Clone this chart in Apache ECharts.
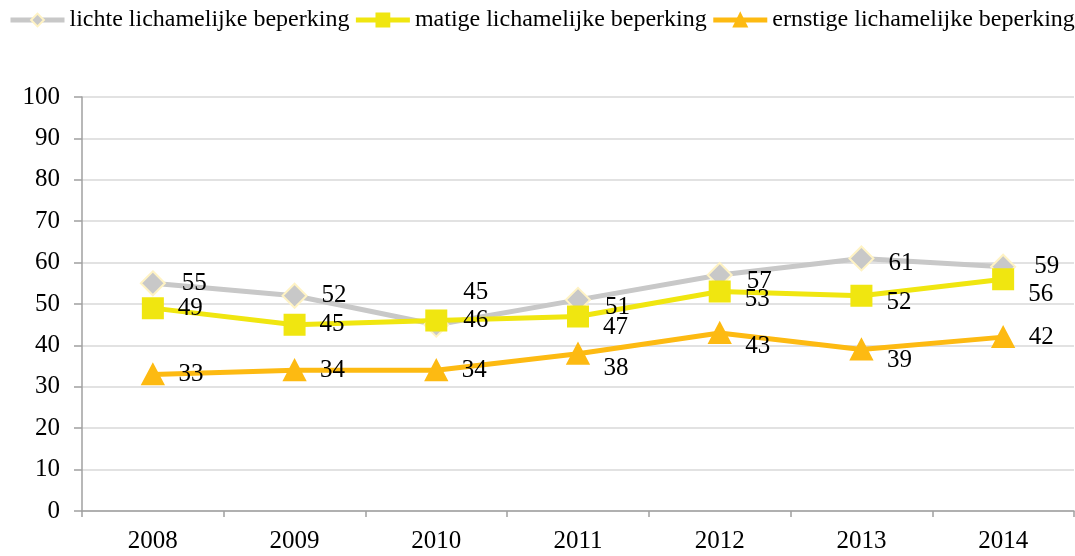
<!DOCTYPE html>
<html>
<head>
<meta charset="utf-8">
<script src="https://cdn.jsdelivr.net/npm/echarts@6/dist/echarts.min.js"></script>
<style>html,body{margin:0;padding:0;background:#fff}#c{width:1075px;height:556px}</style>
</head>
<body>
<div id="c"></div>
<script>
const categories = ['2008','2009','2010','2011','2012','2013','2014'];
const seriesNames = ['lichte lichamelijke beperking','matige lichamelijke beperking','ernstige lichamelijke beperking'];
const lichte = [55,52,45,51,57,61,59];
const matige = [49,45,46,47,53,52,56];
const ernstige = [33,34,34,38,43,39,42];
const yTicks = [0,10,20,30,40,50,60,70,80,90,100];

// label placement tweaks (style only): [dx, dy] per point
const labelOffsets = [
  [[2,0],[0,0],[0,-32],[0,8],[0,6],[0,5],[4,0]],
  [[0,0],[0,0],[2,0],[0,11],[0,8],[0,7],[0,15]],
  [[0,0],[0,0],[0,0],[0,15],[0,13],[0,11],[0,0]]
];

const font = 'Liberation Serif, Times New Roman, serif';
function build(values, si){
  return values.map((v,i)=>({value:v, label:{offset:labelOffsets[si][i]}}));
}
const colors = ['#C8C8C8','#F0E610','#FDBA12'];
const symbols = ['diamond','rect','triangle'];
const sizes = [[24,24],[20,20],[21,20]];
const borders = ['#FFF3C4','#F0E610','#FDBA12'];
const datasets = [lichte, matige, ernstige];

const chart = echarts.init(document.getElementById('c'));
chart.setOption({
  animation:false,
  legend:{
    top:8, left:8, right:0, padding:0, itemWidth:54, itemHeight:16, itemGap:4,
    lineStyle:{width:5},
    textStyle:{fontFamily:font, fontSize:24, color:'#000'},
    data: seriesNames
  },
  grid:{left:82, right:1, top:97, bottom:45, containLabel:false},
  xAxis:{
    type:'category', data:categories, boundaryGap:true,
    axisLine:{lineStyle:{color:'#A0A0A0', width:1.5}},
    axisTick:{show:true, length:6, lineStyle:{color:'#A0A0A0', width:1.5}},
    axisLabel:{fontFamily:font, fontSize:25, color:'#000', margin:18}
  },
  yAxis:{
    type:'value', min:0, max:100, interval:10,
    axisLine:{show:true, lineStyle:{color:'#A0A0A0', width:1.5}},
    axisTick:{show:true, length:8, lineStyle:{color:'#A0A0A0', width:1.5}},
    splitLine:{lineStyle:{color:'#D9D9D9', width:1.5}},
    axisLabel:{fontFamily:font, fontSize:25, color:'#000', margin:22,
      formatter:v=> yTicks.includes(v) ? String(v) : ''}
  },
  series: datasets.map((d,i)=>({
    name:seriesNames[i], type:'line', data:build(d,i),
    symbol:symbols[i], symbolSize:sizes[i],
    itemStyle:{color:colors[i], borderColor:borders[i], borderWidth:2},
    lineStyle:{color:colors[i], width:5},
    label:{show:true, position:'right', distance:14, fontFamily:font, fontSize:25, color:'#000'},
    emphasis:{disabled:true}
  }))
});
</script>
</body>
</html>
